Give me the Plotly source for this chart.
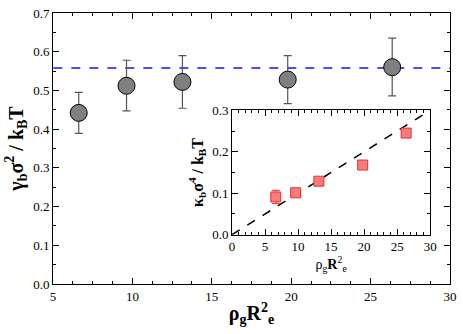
import plotly.graph_objects as go

# main panel: gamma_b sigma^2 / kBT vs rho_g Re^2
rho = [6.62, 9.63, 13.15, 19.78, 26.36]
gamma = [0.442, 0.512, 0.522, 0.528, 0.560]
gamma_hi = [0.495, 0.578, 0.590, 0.590, 0.635]
gamma_lo = [0.389, 0.447, 0.454, 0.466, 0.486]
gamma_mean = 0.558

# inset: kappa_b sigma^4 / kBT
kappa = [0.091, 0.101, 0.129, 0.168, 0.245]
kappa_err = [0.016, 0.004, 0.003, 0.003, 0.004]
fit_x = [0, 30]
fit_y = [0, 0.3]

serif = "'Liberation Serif', 'Times New Roman', Times, 'DejaVu Serif', serif"

fig = go.Figure()

fig.add_trace(go.Scatter(
    x=[rho[0] - 1.6, 30], y=[gamma_mean, gamma_mean], mode="lines",
    line=dict(color="#1010ff", width=1.5, dash="dash"),
    xaxis="x", yaxis="y", showlegend=False,
))
fig.add_trace(go.Scatter(
    x=rho, y=gamma, mode="markers",
    marker=dict(symbol="circle", size=17, color="#808080",
                line=dict(color="black", width=1)),
    error_y=dict(type="data", symmetric=False,
                 array=[h - g for h, g in zip(gamma_hi, gamma)],
                 arrayminus=[g - l for g, l in zip(gamma, gamma_lo)],
                 color="#555555", thickness=1.2, width=4),
    xaxis="x", yaxis="y", showlegend=False,
))

fig.add_trace(go.Scatter(
    x=fit_x, y=fit_y, mode="lines",
    line=dict(color="black", width=1.5, dash="dash"),
    xaxis="x2", yaxis="y2", showlegend=False,
))
fig.add_trace(go.Scatter(
    x=rho, y=kappa, mode="markers",
    marker=dict(symbol="square", size=10, color="#fa7c7c",
                line=dict(color="#e83030", width=1)),
    error_y=dict(type="data", array=kappa_err, color="#e83030",
                 thickness=1, width=4),
    xaxis="x2", yaxis="y2", showlegend=False,
))

axis_common = dict(
    showline=True, linecolor="black", linewidth=1, mirror="ticks",
    ticks="inside", ticklen=6, tickcolor="black", showgrid=False,
    zeroline=False, tickfont=dict(family=serif, size=13, color="black"),
)

fig.update_layout(
    width=463, height=334,
    margin=dict(l=53, r=9, t=6, b=50),
    paper_bgcolor="white", plot_bgcolor="white",
    font=dict(family=serif, color="black"),
    xaxis=dict(axis_common, range=[5, 30], dtick=5, domain=[0, 1],
               minor=dict(dtick=1.25, ticks="inside", ticklen=3, tickcolor="black"),
               title=dict(text="<b>ρ<sub>g</sub>R<sup>2</sup><sub>e</sub></b>",
                          font=dict(family=serif, size=20, color="black"),
                          standoff=3)),
    yaxis=dict(axis_common, range=[0, 0.7], dtick=0.1, tickformat=".1f",
               minor=dict(dtick=0.05, ticks="inside", ticklen=3, tickcolor="black"),
               title=dict(text="<b>γ<sub>b</sub>σ<sup>2</sup> / k<sub>B</sub>T</b>",
                          font=dict(family=serif, size=20, color="black"),
                          standoff=4)),
    xaxis2=dict(axis_common, range=[0, 30], dtick=5, anchor="y2",
                domain=[0.451, 0.950],
                minor=dict(dtick=1, ticks="inside", ticklen=3, tickcolor="black"),
                title=dict(text="ρ<sub>g</sub><b>R</b><sup>2</sup><sub>e</sub>",
                           font=dict(family=serif, size=14, color="black"),
                           standoff=2)),
    yaxis2=dict(axis_common, range=[0, 0.3], dtick=0.1, tickformat=".1f",
                anchor="x2", domain=[0.182, 0.641],
                minor=dict(dtick=0.05, ticks="inside", ticklen=3, tickcolor="black"),
                title=dict(text="<b>κ<sub>b</sub>σ<sup>4</sup> / k<sub>B</sub>T</b>",
                           font=dict(family=serif, size=16, color="black"),
                           standoff=4)),
)

fig.write_html("out.html", config={"displayModeBar": False},
               post_script="document.body.style.margin='0';")
